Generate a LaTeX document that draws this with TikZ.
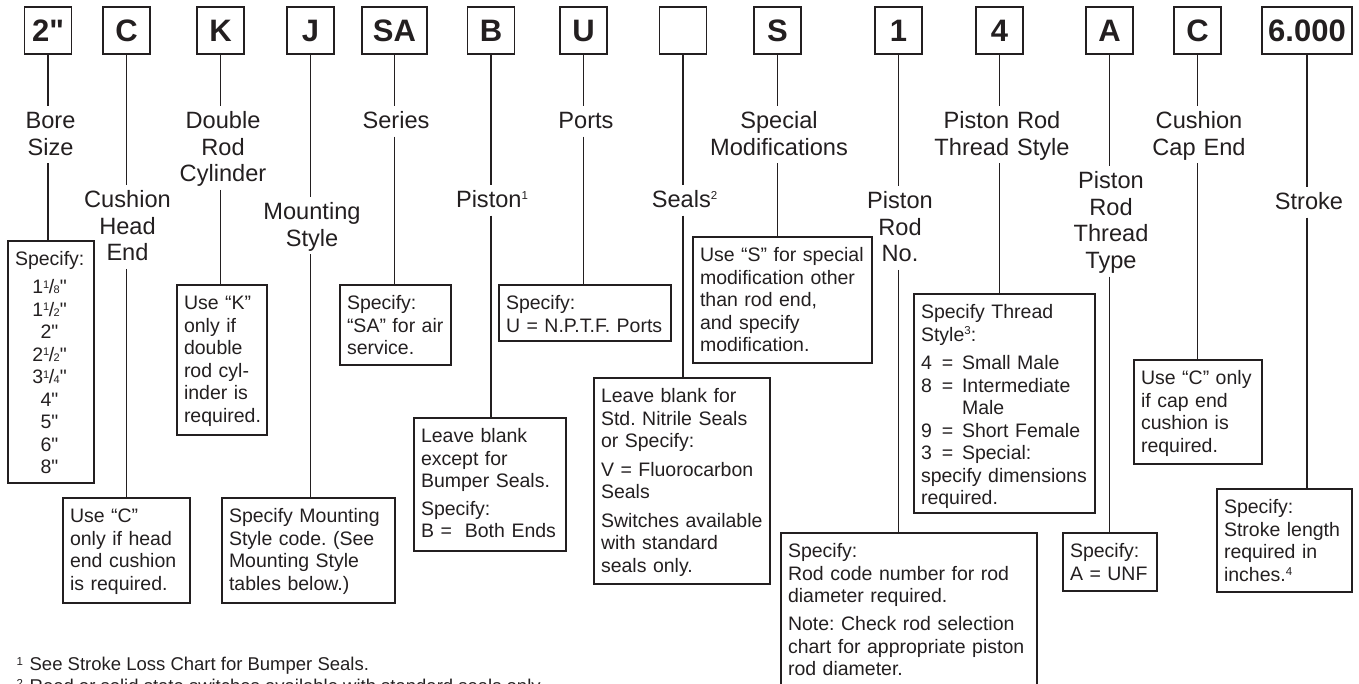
\documentclass[tikz,border=0pt]{standalone}
\usepackage{fontspec}
\setmainfont{Liberation Sans}[Ligatures=TeXOff]
\definecolor{ink}{RGB}{35,31,32}
\newcommand\ftn[2][8pt]{\raisebox{#1}{\fontsize{11.5pt}{11.5pt}\selectfont #2}}
\newcommand\frc[2]{\raisebox{5.5pt}{\fontsize{11pt}{11pt}\selectfont #1}\kern-0.5pt/\kern-0.5pt{\fontsize{11pt}{11pt}\selectfont #2}}
\newcommand\sz[1]{\makebox[69pt][c]{#1}}
\newcommand\eqi[2]{\makebox[21pt][l]{#1}\makebox[20pt][l]{=}#2}
\frenchspacing
\begin{document}
\begin{tikzpicture}[x=1pt,y=-1pt,color=ink,line width=1.3pt,
  code/.style={draw,line width=1.7pt,minimum height=47pt,minimum width=47pt,inner sep=0pt,outer sep=0pt,
    font=\fontsize{31pt}{31pt}\selectfont\bfseries,text height=22.2pt,text depth=0pt},
  lab/.style={text width=220pt,align=center,inner sep=0pt,outer sep=0pt,anchor=base,
    font=\fontsize{23.6pt}{26.7pt}\selectfont\frenchspacing,text height=22.5pt},
  labA/.style={lab,text depth=8pt},
  labB/.style={lab,text depth=34.7pt},
  labC/.style={lab,text depth=61.4pt},
  labD/.style={lab,text depth=88.1pt},
  frame/.style={draw,line width=1.3pt,anchor=north west,inner sep=0pt,outer sep=0pt},
  btxt/.style={anchor=north west,inner xsep=7pt,inner ysep=0pt,outer sep=0pt,text width=300pt,align=left,
    font=\fontsize{19.5pt}{22.5pt}\selectfont\frenchspacing,text height=24.5pt},
  foot/.style={anchor=base west,inner sep=0pt,font=\fontsize{18.5pt}{22.5pt}\selectfont\frenchspacing}
]
\useasboundingbox (0,0) rectangle (1359,683);

% top code boxes
\node[code] (c1) at (48,30.5) {2"};
\node[code] (c2) at (126.5,30.5) {C};
\node[code] (c3) at (220.5,30.5) {K};
\node[code] (c4) at (310.5,30.5) {J};
\node[code,minimum width=65pt] (c5) at (394.5,30.5) {SA};
\node[code] (c6) at (491,30.5) {B};
\node[code] (c7) at (583.5,30.5) {U};
\node[code] (c8) at (683,30.5) {};
\node[code] (c9) at (777.5,30.5) {S};
\node[code] (c10) at (898.5,30.5) {1};
\node[code] (c11) at (999.5,30.5) {4};
\node[code] (c12) at (1109.5,30.5) {A};
\node[code] (c13) at (1197.5,30.5) {C};
\node[code,minimum width=90pt] (c14) at (1307,30.5) {6.000};

% labels
\node[labB] (l1) at (50.5,128.5) {Bore\\Size};
\node[labC] (l2) at (127.5,207.5) {Cushion\\Head\\End};
\node[labC] (l3) at (223,128.5) {Double\\Rod\\Cylinder};
\node[labB] (l4) at (312,219.5) {Mounting\\Style};
\node[labA] (l5) at (396,128.5) {Series};
\node[labA] (l6) at (492,207.5) {Piston\ftn{1}};
\node[labA] (l7) at (586,128.5) {Ports};
\node[labA] (l8) at (684.5,207.5) {Seals\ftn{2}};
\node[labB] (l9) at (779,128.5) {Special\\Modifications};
\node[labC] (l10) at (900,208.5) {Piston\\Rod\\No.};
\node[labB] (l11) at (1002,128.5) {Piston Rod\\Thread Style};
\node[labD] (l12) at (1111,188.5) {Piston\\Rod\\Thread\\Type};
\node[labB] (l13) at (1199,128.5) {Cushion\\Cap End};
\node[labA] (l14) at (1309,209.5) {Stroke};

% frames
\node[frame,minimum width=86pt,minimum height=242pt] (b1) at (8,241) {};
\node[frame,minimum width=127pt,minimum height=105pt] (b2) at (63,498) {};
\node[frame,minimum width=90pt,minimum height=150pt] (b3) at (177,285) {};
\node[frame,minimum width=173pt,minimum height=105pt] (b4) at (222,498) {};
\node[frame,minimum width=111pt,minimum height=80pt] (b5) at (340,285) {};
\node[frame,minimum width=152pt,minimum height=133pt] (b6) at (414,418) {};
\node[frame,minimum width=172pt,minimum height=56pt] (b7) at (499,285) {};
\node[frame,minimum width=176pt,minimum height=206pt] (b8) at (594,378) {};
\node[frame,minimum width=179pt,minimum height=126pt] (b9) at (693,237) {};
\node[frame,minimum width=256pt,minimum height=170pt] (b10) at (781,533) {};
\node[frame,minimum width=181pt,minimum height=219pt] (b11) at (914,294) {};
\node[frame,minimum width=94pt,minimum height=58pt] (b12) at (1063,533) {};
\node[frame,minimum width=128pt,minimum height=104pt] (b13) at (1134,360) {};
\node[frame,minimum width=135pt,minimum height=103pt] (b14) at (1217,489) {};

% box texts
\node[btxt] (t1) at (b1.north west) {Specify:\\[5.5pt]
  \sz{1\frc{1}{8}"}\\\sz{1\frc{1}{2}"}\\\sz{2"}\\\sz{2\frc{1}{2}"}\\\sz{3\frc{1}{4}"}\\\sz{4"}\\\sz{5"}\\\sz{6"}\\\sz{8"}};
\node[btxt] (t2) at (b2.north west) {Use “C”\\only if head\\end cushion\\is required.};
\node[btxt] (t3) at (b3.north west) {Use “K”\\only if\\double\\rod cyl-\\inder is\\required.};
\node[btxt] (t4) at (b4.north west) {Specify Mounting\\Style code. (See\\Mounting Style\\tables below.)};
\node[btxt] (t5) at (b5.north west) {Specify:\\“SA” for air\\service.};
\node[btxt] (t6) at (b6.north west) {Leave blank\\except for\\Bumper Seals.\\[5pt]Specify:\\B =\ \ Both Ends};
\node[btxt] (t7) at (b7.north west) {Specify:\\U = N.P.T.F. Ports};
\node[btxt] (t8) at (b8.north west) {Leave blank for\\Std. Nitrile Seals\\or Specify:\\[6pt]V = Fluorocarbon\\Seals\\[6pt]Switches available\\with standard\\seals only.};
\node[btxt] (t9) at (b9.north west) {Use “S” for special\\modification other\\than rod end,\\and specify\\modification.};
\node[btxt] (t10) at (b10.north west) {Specify:\\Rod code number for rod\\diameter required.\\[5.5pt]Note: Check rod selection\\chart for appropriate piston\\rod diameter.};
\node[btxt] (t11) at (b11.north west) {Specify Thread\\Style\ftn[7pt]{3}:\\[6pt]\eqi{4}{Small Male}\\\eqi{8}{Intermediate}\\\hspace*{41pt}Male\\\eqi{9}{Short Female}\\\eqi{3}{Special:}\\specify dimensions\\required.};
\node[btxt] (t12) at (b12.north west) {Specify:\\A = UNF};
\node[btxt] (t13) at (b13.north west) {Use “C” only\\if cap end\\cushion is\\required.};
\node[btxt] (t14) at (b14.north west) {Specify:\\Stroke length\\required in\\inches.\ftn[6pt]{4}};

% connectors
\foreach \i in {1,...,14}{
  \draw (c\i.south) -- (c\i.south |- l\i.north);
  \draw (c\i.south |- l\i.south) -- (c\i.south |- b\i.north);
}

% footnotes
\node[foot] (fn1) at (16,670) {\makebox[13pt][l]{\ftn[5pt]{1}}See Stroke Loss Chart for Bumper Seals.};
\node[foot] (fn2) at (16,692.5) {\makebox[13pt][l]{\ftn[5pt]{2}}Reed or solid state switches available with standard seals only.};
\end{tikzpicture}
\end{document}
